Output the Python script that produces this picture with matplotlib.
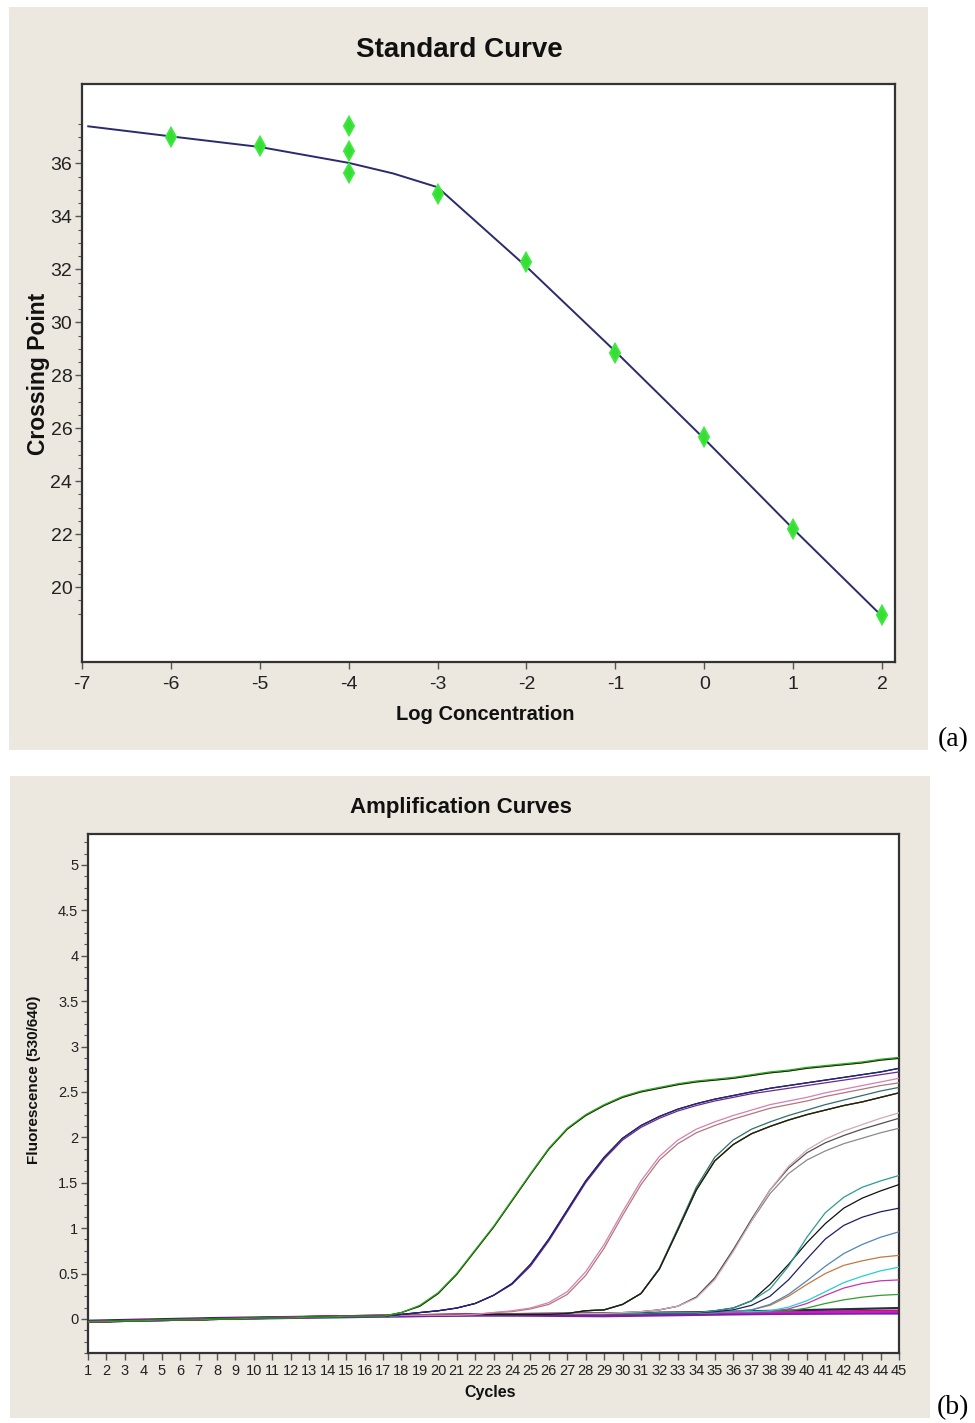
import matplotlib
matplotlib.use('Agg')
import matplotlib.pyplot as plt
from matplotlib.patches import Rectangle
from matplotlib.ticker import MultipleLocator, FixedLocator

plt.rcParams['font.family'] = ['Liberation Sans', 'DejaVu Sans']
plt.rcParams['axes.unicode_minus'] = False
BEIGE = '#ece7df'
SERIF = ['Liberation Serif', 'DejaVu Serif']

# ---- (a) standard curve ----
log_conc = [-6, -5, -4, -4, -4, -3, -2, -1, 0, 1, 2]
crossing_point = [36.98, 36.65, 37.43, 36.45, 35.62, 34.83, 32.26, 28.83, 25.66, 22.19, 18.94]
fit_x = [-6.93, -6, -5, -4, -3.5, -3, -2, -1, 0, 1, 2]
fit_y = [37.40, 37.02, 36.62, 36.02, 35.62, 35.10, 32.10, 28.90, 25.60, 22.20, 18.90]

# ---- (b) amplification curves ----
cycles = list(range(1, 46))
baseline = [-0.03, -0.03, -0.02, -0.02, -0.01, -0.01, -0.01, 0.00, 0.00, 0.01,
            0.01, 0.01, 0.02, 0.02, 0.03, 0.03, 0.03, 0.04, 0.04, 0.04,
            0.04, 0.05, 0.05, 0.05, 0.05, 0.05, 0.06, 0.06, 0.06, 0.06,
            0.06, 0.07, 0.07, 0.07, 0.07, 0.07, 0.08, 0.08, 0.08, 0.08,
            0.08, 0.09, 0.09, 0.09, 0.09]

# rising part of each curve, from its first cycle on
g1a = [0.07, 0.15, 0.29, 0.50, 0.76, 1.02, 1.31, 1.60, 1.88, 2.10, 2.25, 2.36, 2.45, 2.51,
       2.55, 2.59, 2.62, 2.64, 2.66, 2.69, 2.72, 2.74, 2.77, 2.79, 2.81, 2.83, 2.86, 2.88]
g1b = [0.07, 0.14, 0.28, 0.49, 0.75, 1.01, 1.30, 1.59, 1.87, 2.09, 2.24, 2.35, 2.44, 2.50,
       2.54, 2.58, 2.61, 2.63, 2.65, 2.68, 2.71, 2.73, 2.76, 2.78, 2.80, 2.82, 2.85, 2.87]
g2 = [0.05, 0.07, 0.09, 0.12, 0.17, 0.26, 0.39, 0.60, 0.88, 1.20, 1.52, 1.78, 1.99, 2.13,
      2.23, 2.31, 2.37, 2.42, 2.46, 2.50, 2.54, 2.57, 2.60, 2.63, 2.66, 2.69, 2.72, 2.76]
g2b = [0.05, 0.07, 0.09, 0.12, 0.17, 0.26, 0.38, 0.58, 0.86, 1.18, 1.50, 1.76, 1.97, 2.11,
       2.21, 2.29, 2.35, 2.40, 2.44, 2.48, 2.51, 2.54, 2.57, 2.60, 2.63, 2.66, 2.69, 2.72]
g3a = [0.07, 0.09, 0.12, 0.18, 0.30, 0.52, 0.82, 1.18, 1.52, 1.79, 1.97, 2.09, 2.17, 2.24,
       2.30, 2.36, 2.40, 2.44, 2.49, 2.53, 2.57, 2.61, 2.65]
g3b = [0.07, 0.08, 0.11, 0.16, 0.27, 0.48, 0.78, 1.14, 1.48, 1.75, 1.93, 2.05, 2.13, 2.20,
       2.26, 2.32, 2.36, 2.40, 2.45, 2.49, 2.53, 2.57, 2.60]
g4a = [0.09, 0.10, 0.16, 0.28, 0.55, 0.98, 1.42, 1.74, 1.92, 2.04, 2.12, 2.19, 2.25, 2.30,
       2.35, 2.39, 2.44, 2.49]
g4b = [0.09, 0.10, 0.16, 0.28, 0.56, 1.00, 1.45, 1.78, 1.97, 2.09, 2.17, 2.24, 2.30, 2.36,
       2.41, 2.46, 2.51, 2.55]
g5a = [0.07, 0.08, 0.10, 0.14, 0.23, 0.43, 0.74, 1.08, 1.42, 1.68, 1.86, 1.98, 2.07, 2.14, 2.21, 2.27]
g5b = [0.07, 0.08, 0.10, 0.14, 0.24, 0.45, 0.76, 1.10, 1.42, 1.66, 1.83, 1.94, 2.02, 2.09, 2.15, 2.21]
g5c = [0.07, 0.08, 0.10, 0.14, 0.24, 0.45, 0.76, 1.08, 1.38, 1.60, 1.75, 1.85, 1.93, 1.99, 2.05, 2.10]
g6a = [0.09, 0.12, 0.20, 0.33, 0.58, 0.90, 1.17, 1.34, 1.45, 1.52, 1.58]
g6b = [0.09, 0.12, 0.20, 0.38, 0.60, 0.84, 1.05, 1.22, 1.33, 1.41, 1.48]
g6c = [0.08, 0.10, 0.15, 0.25, 0.43, 0.66, 0.88, 1.03, 1.12, 1.18, 1.22]
g7a = [0.08, 0.10, 0.16, 0.27, 0.42, 0.58, 0.72, 0.82, 0.90, 0.96]
g7b = [0.08, 0.10, 0.15, 0.25, 0.38, 0.50, 0.59, 0.64, 0.68, 0.70]
g7c = [0.08, 0.08, 0.09, 0.13, 0.20, 0.30, 0.40, 0.47, 0.53, 0.57]
g7d = [0.08, 0.08, 0.08, 0.11, 0.17, 0.26, 0.34, 0.39, 0.42, 0.43]
g7e = [0.08, 0.08, 0.08, 0.09, 0.12, 0.17, 0.21, 0.24, 0.26, 0.27]

# (first cycle, values, colour)
rising = [
    (36, g7e, '#2e9e2e'), (36, g7d, '#cc33aa'), (36, g7c, '#22d0d8'), (36, g7b, '#c8783a'),
    (36, g7a, '#4f86b8'), (35, g6c, '#1e1e64'), (35, g6b, '#101010'), (35, g6a, '#2a9d8f'),
    (30, g5c, '#8a8a8a'), (30, g5b, '#505050'), (30, g5a, '#d4a8b8'),
    (28, g4a, '#8b4a1a'), (28, g4a, '#7a8a2a'), (28, g4b, '#2f6f6a'), (28, g4a, '#1a1a1a'),
    (23, g3b, '#b07878'), (23, g3a, '#d67fb4'),
    (18, g2b, '#6a2a8a'), (18, g2, '#111111'), (18, g2, '#23238c'),
    (18, g1b, '#c8a800'), (18, g1b, '#1a1a1a'), (18, g1a, '#22aa22'),
]

flat_cycles = [1, 8, 15, 22, 29, 36, 45]
flat_lines = [
    ([-0.03, 0.00, 0.02, 0.04, 0.05, 0.06, 0.07], '#22d0d8'),
    ([-0.03, 0.00, 0.03, 0.04, 0.05, 0.06, 0.06], '#3333cc'),
    ([-0.03, 0.00, 0.03, 0.05, 0.06, 0.07, 0.09], '#b22222'),
    ([-0.03, 0.00, 0.02, 0.04, 0.03, 0.05, 0.07], '#7a1fa2'),
    ([-0.02, 0.01, 0.03, 0.05, 0.06, 0.08, 0.12], '#2a2a4a'),
    ([-0.03, 0.00, 0.03, 0.05, 0.06, 0.07, 0.08], '#dd11cc'),
]

fig = plt.figure(figsize=(9.75, 14.23), dpi=100)
fig.patch.set_facecolor('white')
fig.add_artist(Rectangle((0.0092, 0.4729), 0.9426, 0.5221, transform=fig.transFigure,
                         facecolor=BEIGE, edgecolor='none', zorder=0))
fig.add_artist(Rectangle((0.0103, 0.0035), 0.9436, 0.4512, transform=fig.transFigure,
                         facecolor=BEIGE, edgecolor='none', zorder=0))


def style_axes(ax):
    ax.set_facecolor('white')
    for s in ax.spines.values():
        s.set_color('#333333')
        s.set_linewidth(1.6)
    ax.tick_params(which='both', direction='out', color='#555555', labelcolor='#222222')
    ax.tick_params(which='major', length=5, width=1)
    ax.tick_params(which='minor', length=3, width=0.8)


# panel (a)
ax1 = fig.add_axes([0.0841, 0.5348, 0.8338, 0.4062])
style_axes(ax1)
ax1.plot(fit_x, fit_y, color='#2a2a6e', lw=1.4, zorder=2)
ax1.plot(log_conc, crossing_point, linestyle='none', marker='d', ms=9,
         color='#35dd35', mec='#3ee83e', mew=1.5, zorder=3)
ax1.set_xlim(-7, 2.146)
ax1.set_ylim(17.17, 39.0)
ax1.set_xticks([-7, -6, -5, -4, -3, -2, -1, 0, 1, 2])
ax1.set_yticks([20, 22, 24, 26, 28, 30, 32, 34, 36])
ax1.yaxis.set_minor_locator(FixedLocator([v / 2 for v in range(38, 76)]))
ax1.tick_params(axis='x', which='major', labelsize=14, pad=5)
ax1.tick_params(axis='y', which='major', labelsize=14, pad=2)
ax1.set_xlabel('Log Concentration', fontweight='bold', fontsize=14.5, color='#111111',
               va='center')
ax1.xaxis.set_label_coords(0.4957, -0.0917)
ax1.set_ylabel('Crossing Point', fontweight='bold', fontsize=16.5, color='#111111',
               va='center')
ax1.yaxis.set_label_coords(-0.054, 0.499)
fig.text(459 / 975, 1 - 50 / 1423, 'Standard Curve', fontweight='bold',
         fontsize=20, ha='center', va='center', color='#111111')
fig.text(953 / 975, 1 - 740 / 1423, '(a)', family=SERIF, fontsize=20, ha='center', va='center')

# panel (b)
ax2 = fig.add_axes([0.0903, 0.0492, 0.8318, 0.3647])
style_axes(ax2)
for vals, colour in flat_lines:
    ax2.plot(flat_cycles, vals, color=colour, lw=1.6, zorder=2)
for start, vals, colour in rising:
    ys = baseline[:start - 1] + vals
    ax2.plot(cycles, ys, color=colour, lw=0.9, zorder=3)
ax2.set_xlim(1, 45)
ax2.set_ylim(-0.375, 5.34)
ax2.set_xticks(cycles)
ax2.set_yticks([0, 0.5, 1, 1.5, 2, 2.5, 3, 3.5, 4, 4.5, 5])
ax2.set_yticklabels(['0', '0.5', '1', '1.5', '2', '2.5', '3', '3.5', '4', '4.5', '5'])
ax2.yaxis.set_minor_locator(MultipleLocator(0.125))
ax2.tick_params(axis='x', which='major', labelsize=10.5, pad=3)
ax2.tick_params(axis='y', which='major', labelsize=10.5, pad=2)
ax2.set_xlabel('Cycles', fontweight='bold', fontsize=11.5, color='#111111', va='center')
ax2.xaxis.set_label_coords(0.4957, -0.077)
ax2.set_ylabel('Fluorescence (530/640)', fontweight='bold', fontsize=11, color='#111111',
               va='center')
ax2.yaxis.set_label_coords(-0.0666, 0.526)
fig.text(461 / 975, 1 - 808 / 1423, 'Amplification Curves', fontweight='bold',
         fontsize=16, ha='center', va='center', color='#111111')
fig.text(953 / 975, 1 - 1408 / 1423, '(b)', family=SERIF, fontsize=20, ha='center', va='center')

fig.savefig('out.png', dpi=100, facecolor='white')
